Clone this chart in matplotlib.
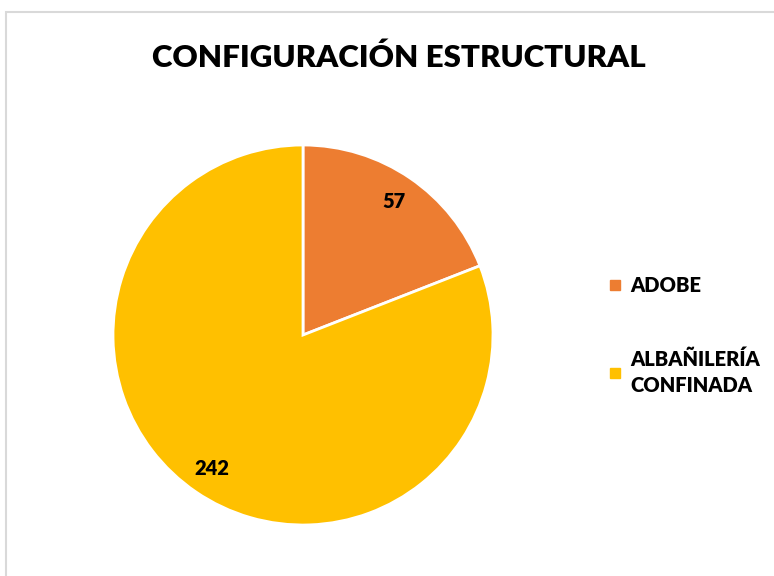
"""Pie chart: configuración estructural."""

import matplotlib.pyplot as plt
from matplotlib.lines import Line2D
from matplotlib.patches import Rectangle

categories = ["ADOBE", "ALBAÑILERÍA\nCONFINADA"]
counts = [57, 242]
colors = ["#ED7D31", "#FFC000"]
title = "CONFIGURACIÓN ESTRUCTURAL"

plt.rcParams["font.family"] = ["Lato", "DejaVu Sans"]

fig = plt.figure(figsize=(7.74, 5.76), dpi=100)

# chart frame (light grey, only left/top visible)
fig.patches.append(Rectangle((6 / 774, -0.1), 1.2, 1 - 12 / 576 + 0.1,
                             transform=fig.transFigure, fill=False,
                             edgecolor="#D9D9D9", linewidth=1.5))

ax = fig.add_axes([113 / 774, 51 / 576, 380 / 774, 380 / 576])
wedges, _, autotexts = ax.pie(
    counts, colors=colors, startangle=90, counterclock=False,
    radius=1.0, autopct=lambda p: f"{round(p * sum(counts) / 100):d}",
    pctdistance=0.85, wedgeprops=dict(edgecolor="white", linewidth=2),
    textprops=dict(fontsize=14.5, fontweight="heavy", color="black"),
)
ax.set_xlim(-1, 1)
ax.set_ylim(-1, 1)
ax.set_aspect("equal")

fig.text(0.515, 0.9, title, ha="center", va="center",
         fontsize=22.5, fontweight="heavy")

handles = [Line2D([], [], marker="s", linestyle="none", markersize=7,
                  markerfacecolor=c, markeredgecolor=c) for c in colors]
leg = fig.legend(handles, categories, loc="upper left",
                 bbox_to_anchor=(591 / 774, 1 - 258 / 576), frameon=False,
                 handlelength=0.6, handletextpad=0.45, labelspacing=2.7,
                 prop=dict(size=14.5, weight="heavy"))
for t in leg.get_texts():
    t.set_linespacing(1.45)

fig.savefig("out.png", dpi=100)
